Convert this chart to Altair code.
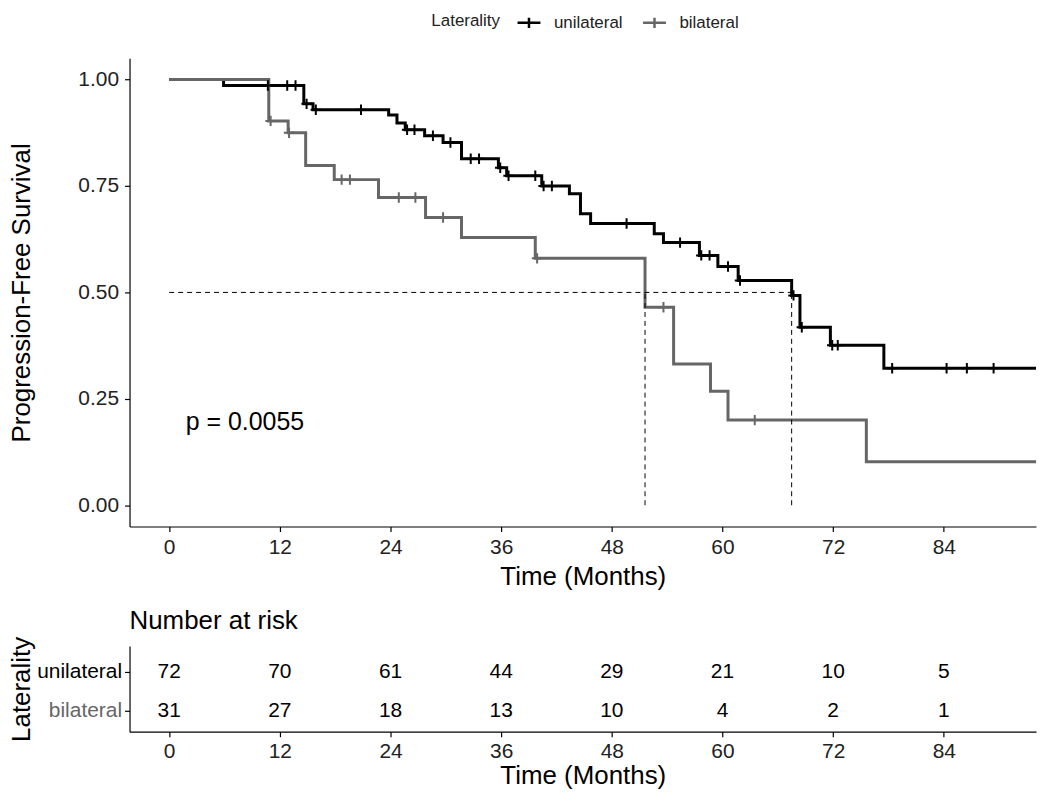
import altair as alt
import pandas as pd

# ---------------- data ----------------
groups = ["unilateral", "bilateral"]
group_colors = ["#000000", "#666666"]

# Kaplan-Meier steps (time in months, survival after the step)
uni_t = [0, 5.9, 14.6, 15.6, 23.8, 24.7, 25.6, 27.7, 29.7, 31.7, 35.7, 36.6, 40.4,
         43.4, 44.6, 45.7, 52.6, 53.6, 57.5, 59.5, 61.7, 67.5, 68.4, 71.7, 77.5, 94.0]
uni_s = [1.0, 0.986, 0.943, 0.929, 0.917, 0.898, 0.882, 0.868, 0.852, 0.814, 0.793, 0.774, 0.750,
         0.732, 0.685, 0.662, 0.638, 0.617, 0.587, 0.561, 0.528, 0.493, 0.418, 0.376, 0.322, 0.322]
uni_cens = [10.7, 12.8, 13.7, 14.9, 15.9, 20.8, 25.8, 26.6, 28.6, 30.5, 32.7, 33.6, 35.9,
            36.8, 39.7, 40.6, 41.5, 49.6, 55.4, 57.7, 58.6, 60.6, 61.9, 67.7, 68.6, 71.9,
            72.5, 78.4, 84.3, 86.5, 89.4]

bil_t = [0, 10.8, 12.9, 14.8, 17.9, 22.7, 27.8, 31.7, 39.7, 51.6, 54.7, 58.7, 60.6, 75.6, 94.0]
bil_s = [1.0, 0.903, 0.875, 0.798, 0.765, 0.723, 0.676, 0.629, 0.580, 0.465, 0.332, 0.268,
         0.200, 0.102, 0.102]
bil_cens = [11.0, 13.0, 18.7, 19.6, 24.9, 26.7, 29.7, 39.9, 53.6, 63.5]

medians = [51.6, 67.5]
p_label = "p = 0.0055"
p_pos = [1.8, 0.196]

risk_times = [0, 12, 24, 36, 48, 60, 72, 84]
risk_uni = [72, 70, 61, 44, 29, 21, 10, 5]
risk_bil = [31, 27, 18, 13, 10, 4, 2, 1]

x_ticks = [0, 12, 24, 36, 48, 60, 72, 84]
y_ticks = [0, 0.25, 0.5, 0.75, 1.0]

FONT = "Liberation Sans"
X_DOMAIN = [-4.3, 94.0]
W = 910
H_MAIN = 470
H_RISK = 86
TITLE_X = -108


def surv_at(ts, ss, t):
    val = ss[0]
    for ti, si in zip(ts, ss):
        if ti <= t:
            val = si
    return val


uni_df = pd.DataFrame({"time": uni_t, "surv": uni_s, "group": groups[0]})
bil_df = pd.DataFrame({"time": bil_t, "surv": bil_s, "group": groups[1]})
uni_c = pd.DataFrame({"time": uni_cens, "surv": [surv_at(uni_t, uni_s, t) for t in uni_cens]})
bil_c = pd.DataFrame({"time": bil_cens, "surv": [surv_at(bil_t, bil_s, t) for t in bil_cens]})

hline = pd.DataFrame({"x": [0], "x2": [max(medians)], "y": [0.5]})
vlines = pd.DataFrame({"x": medians, "y": [0.0] * len(medians), "y2": [0.5] * len(medians)})
ptext = pd.DataFrame({"x": [p_pos[0]], "y": [p_pos[1]], "t": [p_label]})

risk_df = pd.DataFrame({
    "time": risk_times * 2,
    "group": [groups[0]] * len(risk_times) + [groups[1]] * len(risk_times),
    "n": risk_uni + risk_bil,
})

# ---------------- scales / axes ----------------
xscale = alt.Scale(domain=X_DOMAIN, nice=False, zero=False)
yscale = alt.Scale(domain=[-0.05, 1.05], nice=False, zero=False)
cscale = alt.Scale(domain=groups, range=group_colors)

common_axis = dict(
    domainColor="#000000", domainWidth=1.2, tickColor="#000000", tickWidth=1.2,
    tickSize=5, grid=False, labelFont=FONT, titleFont=FONT,
    titleColor="#000000", titleFontWeight="normal",
)

x_axis = alt.Axis(values=x_ticks, title="Time (Months)", labelFontSize=21, titleFontSize=26,
                  labelPadding=5, titlePadding=6, labelColor="#222222", **common_axis)
y_axis = alt.Axis(values=y_ticks, format=".2f", title="Progression-Free Survival",
                  labelFontSize=21, titleFontSize=26, labelPadding=6, labelColor="#222222",
                  titleX=TITLE_X, titleY=H_MAIN / 2, titleAngle=270, titleAlign="center",
                  titleBaseline="middle", **common_axis)

plus_path = "M-1,0H1M0,-1V1"
legend_path = "M-1,0H1M0,-0.45V0.45"

legend = alt.Legend(
    title="Laterality", orient="none", legendX=303, legendY=-49, direction="horizontal",
    titleOrient="left", titleFontSize=17, labelFontSize=17, titleFont=FONT, labelFont=FONT,
    titleFontWeight="normal", titleColor="#222222", labelColor="#222222",
    symbolType=legend_path, symbolSize=529, symbolStrokeWidth=2.5, columnPadding=15,
    labelOffset=12, titlePadding=16, titleBaseline="middle",
)

base_x = alt.X("time:Q", scale=xscale, axis=x_axis)
base_y = alt.Y("surv:Q", scale=yscale, axis=y_axis)

line_uni = alt.Chart(uni_df).mark_line(interpolate="step-after", strokeWidth=3).encode(
    x=base_x, y=base_y, color=alt.Color("group:N", scale=cscale, legend=legend))
line_bil = alt.Chart(bil_df).mark_line(interpolate="step-after", strokeWidth=3).encode(
    x=base_x, y=base_y, color=alt.Color("group:N", scale=cscale, legend=legend))

cens_uni = alt.Chart(uni_c).mark_point(shape=plus_path, filled=False, strokeWidth=2,
                                       size=110, opacity=1).encode(
    x="time:Q", y="surv:Q", color=alt.value(group_colors[0]))
cens_bil = alt.Chart(bil_c).mark_point(shape=plus_path, filled=False, strokeWidth=2,
                                       size=110, opacity=1).encode(
    x="time:Q", y="surv:Q", color=alt.value(group_colors[1]))

h_rule = alt.Chart(hline).mark_rule(strokeDash=[5, 4], strokeWidth=1, color="#000000").encode(
    x="x:Q", x2="x2:Q", y="y:Q")
v_rule = alt.Chart(vlines).mark_rule(strokeDash=[5, 4], strokeWidth=1, color="#000000").encode(
    x="x:Q", y="y:Q", y2="y2:Q")

p_mark = alt.Chart(ptext).mark_text(align="left", baseline="middle", fontSize=25, font=FONT,
                                    color="#000000").encode(x="x:Q", y="y:Q", text="t:N")

main = alt.layer(line_uni, line_bil, cens_uni, cens_bil, h_rule, v_rule, p_mark).properties(
    width=W, height=H_MAIN)

# ---------------- risk table ----------------
rx_axis = alt.Axis(values=x_ticks, title="Time (Months)", labelFontSize=21, titleFontSize=26,
                   labelPadding=4, titlePadding=1, labelColor="#222222", **common_axis)
ry_axis = alt.Axis(title="Laterality", labelFontSize=21, titleFontSize=26, labelPadding=3,
                   titleX=TITLE_X, titleY=H_RISK / 2, titleAngle=270, titleAlign="center",
                   titleBaseline="middle",
                   labelColor=alt.condition("datum.value == 'bilateral'",
                                            alt.value(group_colors[1]), alt.value(group_colors[0])),
                   **common_axis)

risk = alt.Chart(risk_df).mark_text(fontSize=21, font=FONT, color="#000000",
                                    baseline="middle").encode(
    x=alt.X("time:Q", scale=xscale, axis=rx_axis),
    y=alt.Y("group:N", scale=alt.Scale(type="point", domain=groups, padding=0.6, align=0.55),
            axis=ry_axis),
    text="n:Q",
).properties(
    width=W, height=H_RISK,
    title=alt.TitleParams("Number at risk", anchor="start", frame="group", fontSize=26,
                          font=FONT, fontWeight="normal", color="#000000", offset=2),
)

chart = alt.vconcat(main, risk, spacing=19).configure(
    padding={"left": 1, "top": 0, "right": 0, "bottom": 0}
).configure_view(strokeWidth=0)

chart.save("out.html", embed_options={"renderer": "svg", "actions": False})
